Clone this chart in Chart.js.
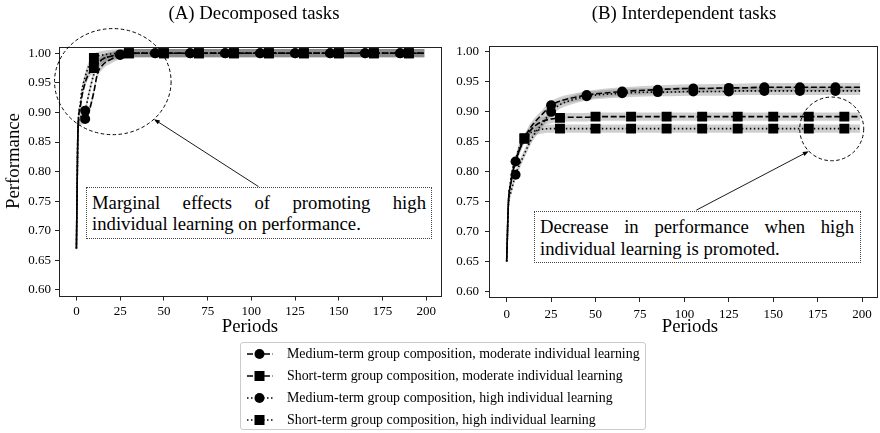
<!DOCTYPE html>
<html><head><meta charset="utf-8">
<script src="https://cdn.jsdelivr.net/npm/chart.js@4.4.0/dist/chart.umd.min.js"></script>
<style>
body{margin:0;background:#fff;}
#wrap{position:relative;width:880px;height:433px;overflow:hidden;font-family:'Liberation Serif','Times New Roman',serif;color:#000;background:#fff;}
canvas{position:absolute;top:0;}
.t{position:absolute;white-space:nowrap;font-size:18.8px;line-height:20px;transform:translate(-50%,-50%);}
.box{position:absolute;box-sizing:border-box;border:1px dotted #444;background:#fff;font-size:18.7px;}
.j{text-align:justify;text-align-last:justify;}
#legend{position:absolute;left:240px;top:342px;width:406px;height:88px;box-sizing:border-box;border:1px solid #ccc;border-radius:3px;background:#fff;font-size:13.9px;}
.row{position:absolute;left:0;height:22px;line-height:22px;white-space:nowrap;width:400px;}
.row svg{position:absolute;left:6px;top:5px;}
.row span{position:absolute;left:46px;}
</style></head>
<body>
<div id="wrap">
  <canvas id="cA" width="450" height="340" style="left:0;width:450px;height:340px"></canvas>
  <canvas id="cB" width="430" height="340" style="left:450px;width:430px;height:340px"></canvas>
  <div class="t" style="left:254px;top:13px">(A) Decomposed tasks</div>
  <div class="t" style="left:684px;top:13px">(B) Interdependent tasks</div>
  <div class="t" style="left:13px;top:161px;transform:translate(-50%,-50%) rotate(-90deg)">Performance</div>
  <div class="t" style="left:250px;top:326px">Periods</div>
  <div class="t" style="left:690px;top:326px">Periods</div>
  <div class="box" style="left:86px;top:187px;width:346px;height:52px;padding:4px 5px 0 5px;line-height:21px">
    <div class="j">Marginal effects of promoting high</div>
    <div>individual learning on performance.</div>
  </div>
  <div class="box" style="left:534px;top:211px;width:327px;height:52px;padding:4px 6px 0 5px;line-height:22px">
    <div class="j">Decrease in performance when high</div>
    <div>individual learning is promoted.</div>
  </div>
  <div id="legend">
    <div class="row" style="top:0">
      <svg width="26" height="12"><line x1="0" y1="6" x2="26" y2="6" stroke="#000" stroke-width="1.6" stroke-dasharray="6 2.5"/><circle cx="12.5" cy="6" r="5" fill="#000"/></svg>
      <span>Medium-term group composition, moderate individual learning</span></div>
    <div class="row" style="top:22px">
      <svg width="26" height="12"><line x1="0" y1="6" x2="26" y2="6" stroke="#000" stroke-width="1.6" stroke-dasharray="6 2.5"/><rect x="7.5" y="1" width="10" height="10" fill="#000"/></svg>
      <span>Short-term group composition, moderate individual learning</span></div>
    <div class="row" style="top:44px">
      <svg width="26" height="12"><line x1="0" y1="6" x2="26" y2="6" stroke="#000" stroke-width="1.6" stroke-dasharray="1.5 2.5"/><circle cx="12.5" cy="6" r="5" fill="#000"/></svg>
      <span>Medium-term group composition, high individual learning</span></div>
    <div class="row" style="top:66px">
      <svg width="26" height="12"><line x1="0" y1="6" x2="26" y2="6" stroke="#000" stroke-width="1.6" stroke-dasharray="1.5 2.5"/><rect x="7.5" y="1" width="10" height="10" fill="#000"/></svg>
      <span>Short-term group composition, high individual learning</span></div>
  </div>
</div>
<script>
// ---------- data ----------
const periods = [0,1,2,3,5,7,10,12,15,20,25,30,35,45,50,65,70,85,90,105,110,125,130,145,150,165,170,185,190,199];
const circlePeriods = [5,25,45,65,85,105,125,145,165,185];
const squarePeriods = [10,30,50,70,90,110,130,150,170,190];
const xTicks = [0,25,50,75,100,125,150,175,200];
const yTicks = [0.60,0.65,0.70,0.75,0.80,0.85,0.90,0.95,1.00];

// (A) Decomposed tasks
const A_medMod    = [0.67,0.88,0.884,0.886,0.889,0.900,0.935,0.965,0.980,0.990,0.997,0.999,1.000,1.000,1.000,1.000,1.000,1.000,1.000,1.000,1.000,1.000,1.000,1.000,1.000,1.000,1.000,1.000,1.000,1.000];
const A_shortMod  = [0.67,0.88,0.905,0.925,0.950,0.965,0.975,0.982,0.990,0.995,0.999,1.000,1.000,1.000,1.000,1.000,1.000,1.000,1.000,1.000,1.000,1.000,1.000,1.000,1.000,1.000,1.000,1.000,1.000,1.000];
const A_medHigh   = [0.67,0.88,0.890,0.895,0.903,0.930,0.965,0.980,0.990,0.995,0.998,1.000,1.000,1.000,1.000,1.000,1.000,1.000,1.000,1.000,1.000,1.000,1.000,1.000,1.000,1.000,1.000,1.000,1.000,1.000];
const A_shortHigh = [0.67,0.88,0.910,0.935,0.960,0.978,0.992,0.995,0.997,0.999,1.000,1.000,1.000,1.000,1.000,1.000,1.000,1.000,1.000,1.000,1.000,1.000,1.000,1.000,1.000,1.000,1.000,1.000,1.000,1.000];

// (B) Interdependent tasks
const B_medMod    = [0.65,0.75,0.775,0.790,0.817,0.835,0.855,0.867,0.880,0.896,0.911,0.918,0.922,0.928,0.930,0.934,0.935,0.937,0.938,0.939,0.939,0.940,0.940,0.941,0.941,0.941,0.941,0.941,0.941,0.941];
const B_shortMod  = [0.65,0.75,0.775,0.795,0.815,0.835,0.855,0.864,0.874,0.884,0.888,0.890,0.891,0.891,0.892,0.892,0.892,0.892,0.892,0.892,0.892,0.892,0.892,0.892,0.892,0.892,0.892,0.892,0.892,0.892];
const B_medHigh   = [0.65,0.745,0.762,0.773,0.795,0.810,0.830,0.843,0.860,0.880,0.900,0.912,0.918,0.926,0.928,0.931,0.932,0.933,0.933,0.934,0.934,0.934,0.935,0.935,0.935,0.935,0.935,0.935,0.935,0.935];
const B_shortHigh = [0.65,0.75,0.780,0.800,0.820,0.840,0.856,0.862,0.867,0.871,0.872,0.872,0.872,0.872,0.872,0.872,0.872,0.872,0.872,0.872,0.872,0.872,0.872,0.872,0.872,0.872,0.872,0.872,0.872,0.872];

const ciA = 0.007;
const ciB = 0.007;

// ---------- chart building ----------
Chart.defaults.font.family = "'Liberation Serif','Times New Roman',serif";
Chart.defaults.font.size = 13;
Chart.defaults.color = '#000';

const DASH = [6, 2.6];
const DOT = [1.5, 2.5];

function pts(vals, off) { return periods.map((p, i) => ({x: p, y: vals[i] + off})); }

function buildDatasets(list, ci) {
  const lines = [];
  list.forEach(s => {
    const marks = s.style === 'circle' ? circlePeriods : squarePeriods;
    const r = s.style === 'circle' ? 5 : 7;
    lines.push({
      data: pts(s.vals, 0), borderColor: '#000', borderWidth: 1.6, borderDash: s.dash, borderDashOffset: s.off,
      fill: false, pointStyle: s.style,
      pointRadius: ctx => (ctx.raw && marks.includes(ctx.raw.x)) ? r : 0,
      pointHoverRadius: 0, pointBackgroundColor: '#000', pointBorderColor: '#000', pointBorderWidth: 0,
      cubicInterpolationMode: 'monotone', order: 0
    });
  });
  const all = lines.slice();
  list.forEach(s => {
    all.push({data: pts(s.vals, ci), borderWidth: 0, pointRadius: 0, fill: '+1',
      backgroundColor: 'rgba(110,110,110,0.33)', borderColor: 'rgba(0,0,0,0)', cubicInterpolationMode: 'monotone', order: 10});
    all.push({data: pts(s.vals, -ci), borderWidth: 0, pointRadius: 0, fill: false,
      backgroundColor: 'rgba(0,0,0,0)', borderColor: 'rgba(0,0,0,0)', cubicInterpolationMode: 'monotone', order: 10});
  });
  return all;
}

function annotPlugin(ann) {
  return {
    id: 'annot',
    afterDraw(chart) {
      const {ctx, chartArea: a, scales: {x, y}} = chart;
      ctx.save();
      ctx.strokeStyle = '#222'; ctx.lineWidth = 1; ctx.setLineDash([]);
      ctx.strokeRect(Math.round(a.left) + 0.5, Math.round(a.top) + 0.5, Math.round(a.right - a.left) - 1, Math.round(a.bottom - a.top) - 1);
      const e = ann.ellipse;
      const cx = x.getPixelForValue(e.x), cy = y.getPixelForValue(e.y);
      const rx = Math.abs(x.getPixelForValue(e.x + e.rx) - cx), ry = Math.abs(y.getPixelForValue(e.y + e.ry) - cy);
      ctx.setLineDash([3.5, 2.5]); ctx.lineWidth = 1; ctx.strokeStyle = '#000';
      ctx.beginPath(); ctx.ellipse(cx, cy, rx, ry, 0, 0, Math.PI * 2); ctx.stroke();
      const ar = ann.arrow;
      const x1 = x.getPixelForValue(ar.x1), y1 = y.getPixelForValue(ar.y1);
      const x2 = x.getPixelForValue(ar.x2), y2 = y.getPixelForValue(ar.y2);
      const ang = Math.atan2(y2 - y1, x2 - x1);
      ctx.setLineDash([]); ctx.lineWidth = 0.9;
      ctx.beginPath(); ctx.moveTo(x1, y1); ctx.lineTo(x2 - 4 * Math.cos(ang), y2 - 4 * Math.sin(ang)); ctx.stroke();
      ctx.beginPath();
      ctx.moveTo(x2, y2);
      ctx.lineTo(x2 - 6 * Math.cos(ang) + 2.2 * Math.sin(ang), y2 - 6 * Math.sin(ang) - 2.2 * Math.cos(ang));
      ctx.lineTo(x2 - 6 * Math.cos(ang) - 2.2 * Math.sin(ang), y2 - 6 * Math.sin(ang) + 2.2 * Math.cos(ang));
      ctx.closePath(); ctx.fillStyle = '#000'; ctx.fill();
      ctx.restore();
    }
  };
}

function makeChart(id, datasets, lay, ann) {
  return new Chart(document.getElementById(id), {
    type: 'line',
    data: {datasets},
    options: {
      responsive: false, animation: false, devicePixelRatio: 1,
      layout: {padding: {left: 0, right: lay.padR, top: lay.top, bottom: 0}},
      plugins: {legend: {display: false}, tooltip: {enabled: false}},
      elements: {line: {borderCapStyle: 'butt'}},
      scales: {
        x: {
          type: 'linear', min: -9.95, max: 208.95,
          afterBuildTicks: s => { s.ticks = xTicks.map(v => ({value: v})); },
          afterFit: s => { s.height = lay.xH; },
          ticks: {padding: lay.xPad, maxRotation: 0, autoSkip: false, callback: v => String(v), font: {size: 13}},
          grid: {display: true, drawOnChartArea: false, drawTicks: true, tickLength: 4, color: '#222'},
          border: {display: false}
        },
        y: {
          type: 'linear', min: 0.589, max: 1.0105,
          afterBuildTicks: s => { s.ticks = yTicks.map(v => ({value: v})); },
          afterFit: s => { s.width = lay.yW; },
          ticks: {padding: lay.yPad, autoSkip: false, callback: v => Number(v).toFixed(2), font: {size: 13}},
          grid: {display: true, drawOnChartArea: false, drawTicks: true, tickLength: 4, color: '#222'},
          border: {display: false}
        }
      }
    },
    plugins: [annotPlugin(ann)]
  });
}

makeChart('cA', buildDatasets([
  {vals: A_medMod, dash: DASH, off: 0, style: 'circle'},
  {vals: A_shortMod, dash: DASH, off: 4.3, style: 'rect'},
  {vals: A_medHigh, dash: DOT, off: 0, style: 'circle'},
  {vals: A_shortHigh, dash: DOT, off: 2, style: 'rect'}
], ciA), {padR: 8, top: 47, xH: 43.5, yW: 59, xPad: 3, yPad: 4},
{ellipse: {x: 20.8, y: 0.952, rx: 33.3, ry: 0.0896}, arrow: {x1: 104.1, y1: 0.7746, x2: 44.3, y2: 0.8885}});

makeChart('cB', buildDatasets([
  {vals: B_medMod, dash: DASH, off: 0, style: 'circle'},
  {vals: B_shortMod, dash: DASH, off: 4.3, style: 'rect'},
  {vals: B_medHigh, dash: DOT, off: 0, style: 'circle'},
  {vals: B_shortHigh, dash: DOT, off: 2, style: 'rect'}
], ciB), {padR: 2, top: 45.7, xH: 42, yW: 39, xPad: 5, yPad: 6},
{ellipse: {x: 182.9, y: 0.8715, rx: 18, ry: 0.0532}, arrow: {x1: 106.7, y1: 0.7358, x2: 170, y2: 0.8343}});
</script>
</body></html>
